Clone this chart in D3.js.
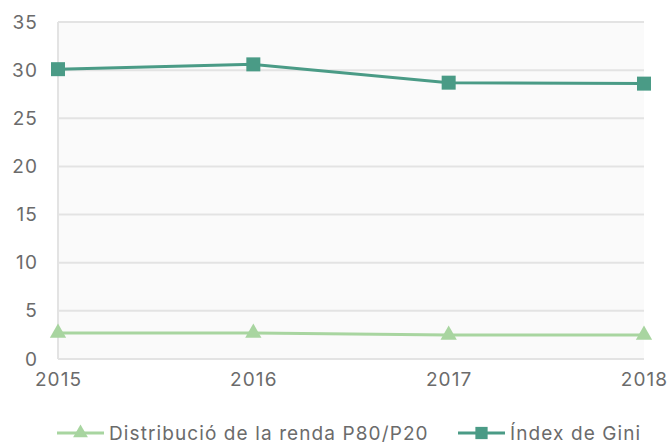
<!DOCTYPE html>
<html lang="ca">
<head>
<meta charset="UTF-8">
<title>Desigualtat</title>
<script src="https://cdn.jsdelivr.net/npm/d3@7"></script>
<style>
  html, body { margin: 0; padding: 0; background: #fff; }
  svg text { font-family: Inter, "Noto Sans", sans-serif; fill: #6b6b6b; letter-spacing: 1.1px; }
  .axis path, .axis line { display: none; }
  .grid line { stroke: #e3e3e3; stroke-width: 2; }
</style>
</head>
<body>
<svg id="chart" width="670" height="444"></svg>
<script>
var years = ["2015", "2016", "2017", "2018"];
var giniValues = [30.1, 30.6, 28.7, 28.6];
var p80p20Values = [2.7, 2.7, 2.5, 2.5];
var yTicks = [0, 5, 10, 15, 20, 25, 30, 35];
var seriesNames = ["Distribució de la renda P80/P20", "Índex de Gini"];

var svg = d3.select("#chart"),
    margin = { top: 22, right: 26, bottom: 85, left: 58 },
    width = +svg.attr("width") - margin.left - margin.right,
    height = +svg.attr("height") - margin.top - margin.bottom;

var x = d3.scalePoint().domain(years).range([0, width]);
var y = d3.scaleLinear().domain([0, 35]).range([height, 0]);

var g = svg.append("g")
    .attr("transform", "translate(" + margin.left + "," + margin.top + ")");

// plot background
g.append("rect")
    .attr("width", width)
    .attr("height", height)
    .attr("fill", "#fafafa");

// horizontal grid
g.append("g")
    .attr("class", "grid")
    .selectAll("line")
    .data(yTicks)
    .enter().append("line")
    .attr("x1", 0)
    .attr("x2", width)
    .attr("y1", d => y(d))
    .attr("y2", d => y(d));

// left edge line
g.append("line")
    .attr("x1", 0).attr("x2", 0)
    .attr("y1", 0).attr("y2", height)
    .attr("stroke", "#e3e3e3").attr("stroke-width", 2);

// axes
g.append("g")
    .attr("class", "axis axis--y")
    .call(d3.axisLeft(y).tickValues(yTicks).tickSize(0).tickPadding(20))
    .selectAll("text")
    .style("font-size", "19px");

g.append("g")
    .attr("class", "axis axis--x")
    .attr("transform", "translate(0," + height + ")")
    .call(d3.axisBottom(x).tickSize(0).tickPadding(14))
    .selectAll("text")
    .style("font-size", "19px");

var series = [
    { name: seriesNames[0], values: p80p20Values, color: "#a8d5a0", symbol: d3.symbolTriangle, size: 115 },
    { name: seriesNames[1], values: giniValues, color: "#4a9b86", symbol: d3.symbolSquare, size: 196 }
];

var line = d3.line()
    .x((d, i) => x(years[i]))
    .y(d => y(d));

series.forEach(function (s) {
    g.append("path")
        .datum(s.values)
        .attr("fill", "none")
        .attr("stroke", s.color)
        .attr("stroke-width", 3)
        .attr("d", line);

    g.selectAll(null)
        .data(s.values)
        .enter().append("path")
        .attr("transform", (d, i) => "translate(" + x(years[i]) + "," + y(d) + ")")
        .attr("d", d3.symbol().type(s.symbol).size(s.size))
        .attr("fill", s.color);
});

// legend
var legendX = [57, 458];
var legend = svg.append("g").attr("transform", "translate(0,433)");
series.forEach(function (s, i) {
    var lg = legend.append("g").attr("transform", "translate(" + legendX[i] + ",0)");
    lg.append("line")
        .attr("x1", 0).attr("x2", 47)
        .attr("stroke", s.color).attr("stroke-width", 3);
    lg.append("path")
        .attr("transform", "translate(23.5,0)")
        .attr("d", d3.symbol().type(s.symbol).size(i === 0 ? 95 : 150))
        .attr("fill", s.color);
    lg.append("text")
        .attr("x", 52)
        .attr("dy", "0.35em")
        .style("font-size", "19px")
        .text(s.name);
});
</script>
</body>
</html>
